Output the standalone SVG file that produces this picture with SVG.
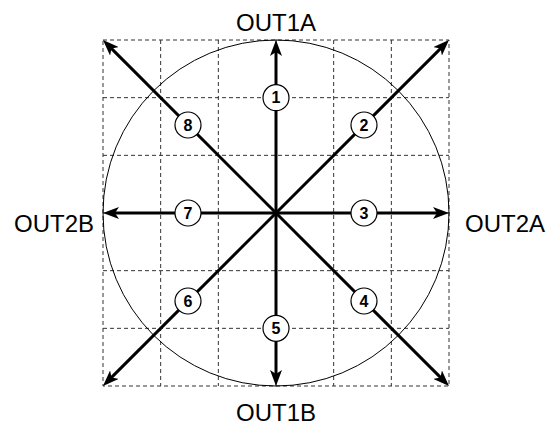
<svg xmlns="http://www.w3.org/2000/svg" width="560" height="433" viewBox="0 0 560 433">
<style>
.grid{stroke:#333;stroke-width:1;stroke-dasharray:4 3;fill:none}
.ring{stroke:#000;stroke-width:1;fill:none}
.arr{stroke:#000;stroke-width:3;fill:none;marker-end:url(#ah)}
.lbl{font-family:"Liberation Sans",Arial,sans-serif;font-size:24px;fill:#000}
.num circle{fill:#fff;stroke:#000;stroke-width:1.2}
.num text{font-family:"Liberation Sans",Arial,sans-serif;font-size:16px;font-weight:bold;text-anchor:middle;fill:#000}
</style>
<defs>
<marker id="ah" markerUnits="userSpaceOnUse" markerWidth="16" markerHeight="12" viewBox="0 0 16 12" refX="6" refY="6" orient="auto">
<path d="M0,0 L16,6 L0,12 L4,6 Z" fill="#000"/>
</marker>
</defs>
<rect width="560" height="433" fill="#fff"/>
<g id="grid">
<rect class="grid" x="103" y="40" width="346" height="346"/>
<path class="grid" d="M160.67,40V386M218.33,40V386M276,40V386M333.67,40V386M391.33,40V386M103,97.67H449M103,155.33H449M103,213H449M103,270.67H449M103,328.33H449"/>
</g>
<circle id="ring" class="ring" cx="276" cy="213" r="173"/>
<g id="connectors">
<line class="arr" x1="276" y1="213" x2="276" y2="50"/>
<line class="arr" x1="276" y1="213" x2="276" y2="376"/>
<line class="arr" x1="276" y1="213" x2="113" y2="213"/>
<line class="arr" x1="276" y1="213" x2="439" y2="213"/>
<line class="arr" x1="276" y1="213" x2="441.93" y2="47.07"/>
<line class="arr" x1="276" y1="213" x2="110.07" y2="47.07"/>
<line class="arr" x1="276" y1="213" x2="110.07" y2="378.93"/>
<line class="arr" x1="276" y1="213" x2="441.93" y2="378.93"/>
</g>
<g id="n1" class="num"><circle cx="276" cy="97.7" r="13"/><text x="276" y="103.4">1</text></g>
<g id="n2" class="num"><circle cx="364" cy="125" r="13"/><text x="364" y="130.7">2</text></g>
<g id="n3" class="num"><circle cx="364" cy="213" r="13"/><text x="364" y="218.7">3</text></g>
<g id="n4" class="num"><circle cx="364" cy="301" r="13"/><text x="364" y="306.7">4</text></g>
<g id="n5" class="num"><circle cx="276" cy="328.3" r="13"/><text x="276" y="334">5</text></g>
<g id="n6" class="num"><circle cx="188" cy="301" r="13"/><text x="188" y="306.7">6</text></g>
<g id="n7" class="num"><circle cx="188" cy="213" r="13"/><text x="188" y="218.7">7</text></g>
<g id="n8" class="num"><circle cx="188" cy="125" r="13"/><text x="188" y="130.7">8</text></g>
<g id="out1a"><text class="lbl" x="276" y="31" text-anchor="middle">OUT1A</text></g>
<g id="out1b"><text class="lbl" x="276" y="421" text-anchor="middle">OUT1B</text></g>
<g id="out2b"><text class="lbl" x="94" y="232" text-anchor="end">OUT2B</text></g>
<g id="out2a"><text class="lbl" x="465" y="232" text-anchor="start">OUT2A</text></g>
</svg>
